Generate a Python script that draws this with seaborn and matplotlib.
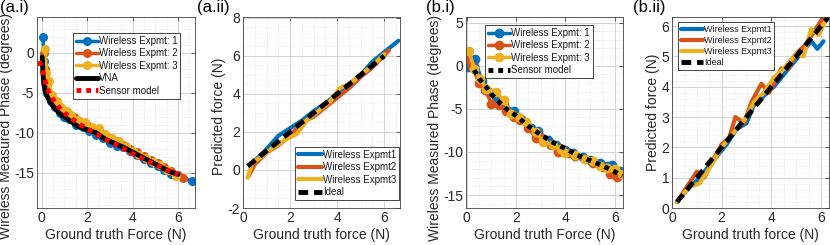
import matplotlib
matplotlib.use("Agg")
import matplotlib.pyplot as plt
import seaborn as sns
from matplotlib.ticker import AutoMinorLocator, MultipleLocator

# MATLAB default colours
BLUE = "#0072BD"
ORANGE = "#D95319"
YELLOW = "#EDB120"

# ---- (a.i) phase vs force, sensor A ----
a1_x1 = [0.05, 0.1, 0.15, 0.25, 0.4, 0.6, 0.8, 1.0, 1.2, 1.5, 1.8, 2.1, 2.4, 2.7, 3.0, 3.3, 3.6, 3.9, 4.2, 4.5, 4.8, 5.1, 5.4, 5.7, 6.6]
a1_y1 = [2.0, -1.0, -3.5, -5.0, -6.0, -6.8, -7.5, -8.0, -8.3, -9.0, -9.3, -9.8, -10.3, -10.6, -11.3, -11.6, -11.8, -12.3, -12.8, -13.3, -13.8, -14.2, -14.7, -15.2, -16.0]
a1_x2 = [0.1, 0.15, 0.25, 0.4, 0.6, 0.9, 1.1, 1.4, 1.7, 2.0, 2.3, 2.6, 3.0, 3.3, 3.6, 3.9, 4.2, 4.5, 4.8, 5.1, 5.4, 5.7, 6.0, 6.2]
a1_y2 = [0.0, -2.0, -4.0, -5.5, -6.3, -7.0, -7.5, -8.0, -8.6, -9.0, -9.6, -10.0, -10.6, -11.0, -11.5, -12.0, -12.4, -12.9, -13.4, -13.8, -14.3, -14.8, -15.3, -15.6]
a1_x3 = [0.15, 0.2, 0.3, 0.45, 0.65, 0.85, 1.1, 1.3, 1.6, 1.9, 2.2, 2.5, 2.8, 3.1, 3.4, 3.7, 4.0, 4.3, 4.6, 4.9, 5.2, 5.5, 5.9]
a1_y3 = [0.5, -2.5, -3.5, -5.2, -6.0, -6.8, -7.3, -7.8, -8.4, -8.7, -9.3, -9.4, -10.2, -10.7, -11.0, -11.7, -12.3, -12.8, -13.2, -13.6, -14.0, -14.6, -15.4]
vna_x = [0.02, 0.05, 0.1, 0.15, 0.25, 0.4, 0.6, 0.8, 1.0, 1.3, 1.6, 2.0, 2.4, 2.8, 3.2, 3.6, 4.0, 4.4, 4.8, 5.2, 5.6, 6.0]
vna_y = [-0.5, -2.5, -4.0, -4.8, -5.5, -6.3, -7.0, -7.6, -8.0, -8.6, -9.2, -9.6, -10.0, -10.8, -11.3, -11.8, -12.4, -13.0, -13.6, -14.2, -14.8, -15.2]
a1_model_x = [-0.1, 0.0, 0.1, 0.2, 0.3, 0.5, 0.7, 1.0, 1.5, 2.0, 2.5, 3.0, 3.5, 4.0, 4.5, 5.0, 5.5, 6.0]
a1_model_y = [-1.0, -2.0, -3.0, -4.0, -4.8, -5.8, -6.6, -7.5, -8.6, -9.5, -10.3, -11.1, -11.8, -12.6, -13.3, -14.0, -14.6, -15.2]

# ---- (a.ii) predicted vs ground truth, sensor A ----
a2_x1 = [0.3, 0.6, 1.0, 1.5, 2.0, 2.5, 3.0, 3.5, 4.0, 4.5, 5.0, 5.5, 6.0, 6.6]
a2_y1 = [0.3, 0.6, 1.1, 1.8, 2.2, 2.6, 3.1, 3.5, 4.0, 4.5, 5.0, 5.7, 6.2, 6.8]
a2_x2 = [0.25, 0.5, 1.0, 1.5, 2.0, 2.5, 3.0, 3.5, 4.0, 4.5, 5.0, 5.5, 6.2]
a2_y2 = [-0.3, 0.3, 0.9, 1.3, 1.8, 2.5, 2.8, 3.3, 3.8, 4.3, 4.9, 5.4, 6.3]
a2_x3 = [0.2, 0.4, 0.8, 1.2, 1.8, 2.3, 2.7, 3.2, 3.7, 4.1, 4.6, 5.1, 5.6, 6.0]
a2_y3 = [-0.4, 0.4, 0.7, 1.1, 1.6, 1.9, 2.6, 3.1, 3.6, 4.3, 4.6, 5.1, 5.6, 6.1]
a2_ideal = [0.2, 6.0]

# ---- (b.i) phase vs force, sensor B ----
b1_x1 = [0.05, 0.35, 0.6, 0.9, 1.2, 1.5, 1.9, 2.2, 2.6, 2.9, 3.3, 3.6, 4.0, 4.3, 4.7, 5.0, 5.4, 5.7, 5.9, 6.2]
b1_y1 = [-0.2, 0.8, -1.8, -3.0, -3.6, -4.6, -5.2, -6.2, -7.2, -7.6, -8.6, -9.2, -9.8, -10.1, -10.6, -10.9, -11.3, -11.6, -11.5, -12.2]
b1_x2 = [0.05, 0.2, 0.5, 0.75, 1.0, 1.3, 1.6, 1.9, 2.15, 2.5, 2.8, 3.0, 3.4, 3.7, 4.1, 4.4, 4.8, 5.1, 5.5, 5.8, 6.1]
b1_y2 = [0.8, 0.0, -2.0, -2.8, -4.4, -4.6, -5.3, -6.0, -6.3, -7.2, -8.4, -8.4, -9.2, -10.0, -10.1, -10.5, -10.8, -11.3, -11.8, -12.5, -12.9]
b1_x3 = [0.1, 0.3, 0.55, 0.8, 1.2, 1.5, 1.8, 2.1, 2.4, 2.8, 3.1, 3.5, 3.8, 4.0, 4.4, 4.8, 5.1, 5.4, 5.7, 6.0, 6.3]
b1_y3 = [1.7, -0.4, -1.5, -2.7, -3.1, -4.0, -5.6, -6.0, -6.5, -7.7, -8.8, -9.2, -9.7, -10.1, -10.3, -10.8, -11.1, -11.6, -11.9, -12.0, -12.6]
b1_model_x = [0.3, 0.5, 0.8, 1.0, 1.3, 1.6, 2.0, 2.5, 3.0, 3.5, 4.0, 4.5, 5.0, 5.5, 6.0, 6.3]
b1_model_y = [-0.5, -1.5, -2.5, -3.3, -4.2, -5.0, -5.8, -7.0, -8.0, -8.9, -9.6, -10.4, -11.0, -11.6, -12.3, -12.8]

# ---- (b.ii) predicted vs ground truth, sensor B ----
b2_x1 = [0.2, 0.6, 1.0, 1.4, 1.8, 2.2, 2.6, 3.0, 3.3, 3.7, 4.1, 4.5, 4.8, 5.2, 5.6, 5.85, 6.1]
b2_y1 = [0.2, 0.6, 0.9, 1.3, 1.7, 2.1, 2.6, 2.8, 3.4, 3.7, 4.0, 4.4, 4.7, 5.1, 5.5, 5.25, 5.5]
b2_x2 = [0.2, 0.6, 1.0, 1.3, 1.6, 2.0, 2.3, 2.55, 2.9, 3.2, 3.6, 3.9, 4.1, 4.4, 4.7, 5.0, 5.4, 5.7, 6.1]
b2_y2 = [0.2, 0.7, 1.2, 1.0, 1.5, 2.1, 2.3, 3.0, 2.8, 3.5, 4.1, 3.8, 4.1, 4.6, 4.6, 5.1, 5.4, 5.8, 6.3]
b2_x3 = [0.2, 0.7, 1.1, 1.5, 2.0, 2.5, 3.0, 3.3, 3.7, 4.1, 4.5, 5.0, 5.3, 5.6, 5.9, 6.2]
b2_y3 = [0.2, 0.7, 0.8, 1.3, 2.0, 2.5, 3.0, 3.5, 3.8, 4.3, 4.6, 5.1, 5.0, 5.9, 5.7, 6.2]
b2_ideal = [0.2, 6.3]

sns.set_style("whitegrid")
plt.rcParams["font.family"] = ["Liberation Sans", "DejaVu Sans"]
plt.rcParams["axes.unicode_minus"] = False

fig = plt.figure(figsize=(8.3, 2.45), dpi=100)
W, H = 830, 245
top, bottom = 17, 208


def make_ax(left, right):
    return fig.add_axes([left / W, (H - bottom) / H, (right - left) / W, (bottom - top) / H])


def style(ax):
    ax.set_facecolor("white")
    for s in ax.spines.values():
        s.set_visible(True)
        s.set_color("0.25")
        s.set_linewidth(0.6)
    ax.xaxis.set_minor_locator(AutoMinorLocator())
    ax.yaxis.set_minor_locator(AutoMinorLocator())
    ax.grid(True, which="major", color="#d4d4d4", lw=0.7, ls="-")
    ax.grid(True, which="minor", color="#dcdcdc", lw=0.5, ls=":")
    ax.tick_params(which="major", direction="in", length=3, width=0.5, top=True, right=True,
                   labelsize=10, colors="0.15", pad=2)
    ax.tick_params(which="minor", length=0)
    ax.set_axisbelow(True)


def exp_line(ax, x, y, color, label, marker=True, lw=2.5, ms=6.5):
    kw = dict(marker="o", markersize=ms, markeredgecolor=color, markeredgewidth=0) if marker else {}
    sns.lineplot(x=x, y=y, ax=ax, color=color, lw=lw, label=label, sort=False, estimator=None, **kw)


def legend(ax, loc, anchor, fs, hl):
    lg = ax.legend(loc=loc, bbox_to_anchor=anchor, borderaxespad=0, fontsize=fs, handlelength=hl,
                   handletextpad=0.1, labelspacing=0.25, borderpad=0.3, fancybox=False,
                   framealpha=1, edgecolor="0.15", facecolor="white", numpoints=1)
    lg.get_frame().set_linewidth(0.6)
    for t in lg.get_texts():
        t.set_color("0.1")


def labels(ax, xl, yl, ypos):
    ax.set_xlabel(xl, fontsize=10, labelpad=2)
    ax.set_ylabel(yl, fontsize=10, labelpad=1)
    ax.yaxis.label.set_y(ypos)


# (a.i)
ax = make_ax(37, 195)
style(ax)
exp_line(ax, a1_x1, a1_y1, BLUE, "Wireless Expmt: 1")
exp_line(ax, a1_x2, a1_y2, ORANGE, "Wireless Expmt: 2")
exp_line(ax, a1_x3, a1_y3, YELLOW, "Wireless Expmt: 3")
sns.lineplot(x=vna_x, y=vna_y, ax=ax, color="black", lw=3.5, label="VNA", sort=False, estimator=None)
sns.lineplot(x=a1_model_x, y=a1_model_y, ax=ax, color="red", lw=3.5, linestyle=(0, (1, 1)),
             dash_capstyle="butt", label="Sensor model", sort=False, estimator=None)
ax.set_xlim(-0.21, 6.75)
ax.set_ylim(-19.4, 4.5)
ax.xaxis.set_major_locator(MultipleLocator(2))
ax.yaxis.set_major_locator(MultipleLocator(5))
labels(ax, "Ground truth Force (N)", "Wireless Measured Phase (degrees)", 0.43)
legend(ax, "upper left", (0.226, 0.916), 7, 2.3)

# (a.ii)
ax = make_ax(243, 400)
style(ax)
exp_line(ax, a2_x1, a2_y1, BLUE, "Wireless Expmt1", marker=False, lw=3)
exp_line(ax, a2_x2, a2_y2, ORANGE, "Wireless Expmt2", marker=False, lw=3)
exp_line(ax, a2_x3, a2_y3, YELLOW, "Wireless Expmt3", marker=False, lw=3)
sns.lineplot(x=a2_ideal, y=a2_ideal, ax=ax, color="black", lw=3.5, linestyle=(0, (2, 1.2)),
             label="Ideal", sort=False, estimator=None)
ax.set_xlim(0, 6.67)
ax.set_ylim(-2, 8.05)
ax.xaxis.set_major_locator(MultipleLocator(2))
ax.yaxis.set_major_locator(MultipleLocator(2))
labels(ax, "Ground truth force (N)", "Predicted force (N)", 0.48)
legend(ax, "lower right", (0.994, 0.042), 7, 2.5)

# (b.i)
ax = make_ax(466, 623)
style(ax)
exp_line(ax, b1_x1, b1_y1, BLUE, "Wireless Expmt: 1", ms=7)
exp_line(ax, b1_x2, b1_y2, ORANGE, "Wireless Expmt: 2", ms=7)
exp_line(ax, b1_x3, b1_y3, YELLOW, "Wireless Expmt: 3", ms=7)
sns.lineplot(x=b1_model_x, y=b1_model_y, ax=ax, color="black", lw=3.5, linestyle=(0, (1, 1)),
             dash_capstyle="butt", label="Sensor model", sort=False, estimator=None)
ax.set_xlim(-0.03, 6.33)
ax.set_ylim(-16.5, 5.65)
ax.xaxis.set_major_locator(MultipleLocator(2))
ax.yaxis.set_major_locator(MultipleLocator(5))
labels(ax, "Ground truth Force (N)", "Wireless Measured Phase (degrees)", 0.42)
legend(ax, "upper left", (0.121, 0.958), 7, 2.3)

# (b.ii)
ax = make_ax(672, 829)
style(ax)
exp_line(ax, b2_x1, b2_y1, BLUE, "Wireless Expmt1", marker=False, lw=3)
exp_line(ax, b2_x2, b2_y2, ORANGE, "Wireless Expmt2", marker=False, lw=3)
exp_line(ax, b2_x3, b2_y3, YELLOW, "Wireless Expmt3", marker=False, lw=3)
sns.lineplot(x=b2_ideal, y=b2_ideal, ax=ax, color="black", lw=3.5, linestyle=(0, (2, 1.2)),
             label="Ideal", sort=False, estimator=None)
ax.set_xlim(0, 6.32)
ax.set_ylim(0, 6.3)
ax.xaxis.set_major_locator(MultipleLocator(2))
ax.yaxis.set_major_locator(MultipleLocator(1))
labels(ax, "Ground truth force (N)", "Predicted force (N)", 0.5)
legend(ax, "upper left", (0.038, 0.974), 6.5, 2.5)

# panel tags
for x, tag in [(0, "(a.i)"), (197, "(a.ii)"), (426, "(b.i)"), (633, "(b.ii)")]:
    fig.text(x / W, 1.0, tag, fontsize=12, va="top", ha="left", color="black")

fig.savefig("out.png", dpi=100)
